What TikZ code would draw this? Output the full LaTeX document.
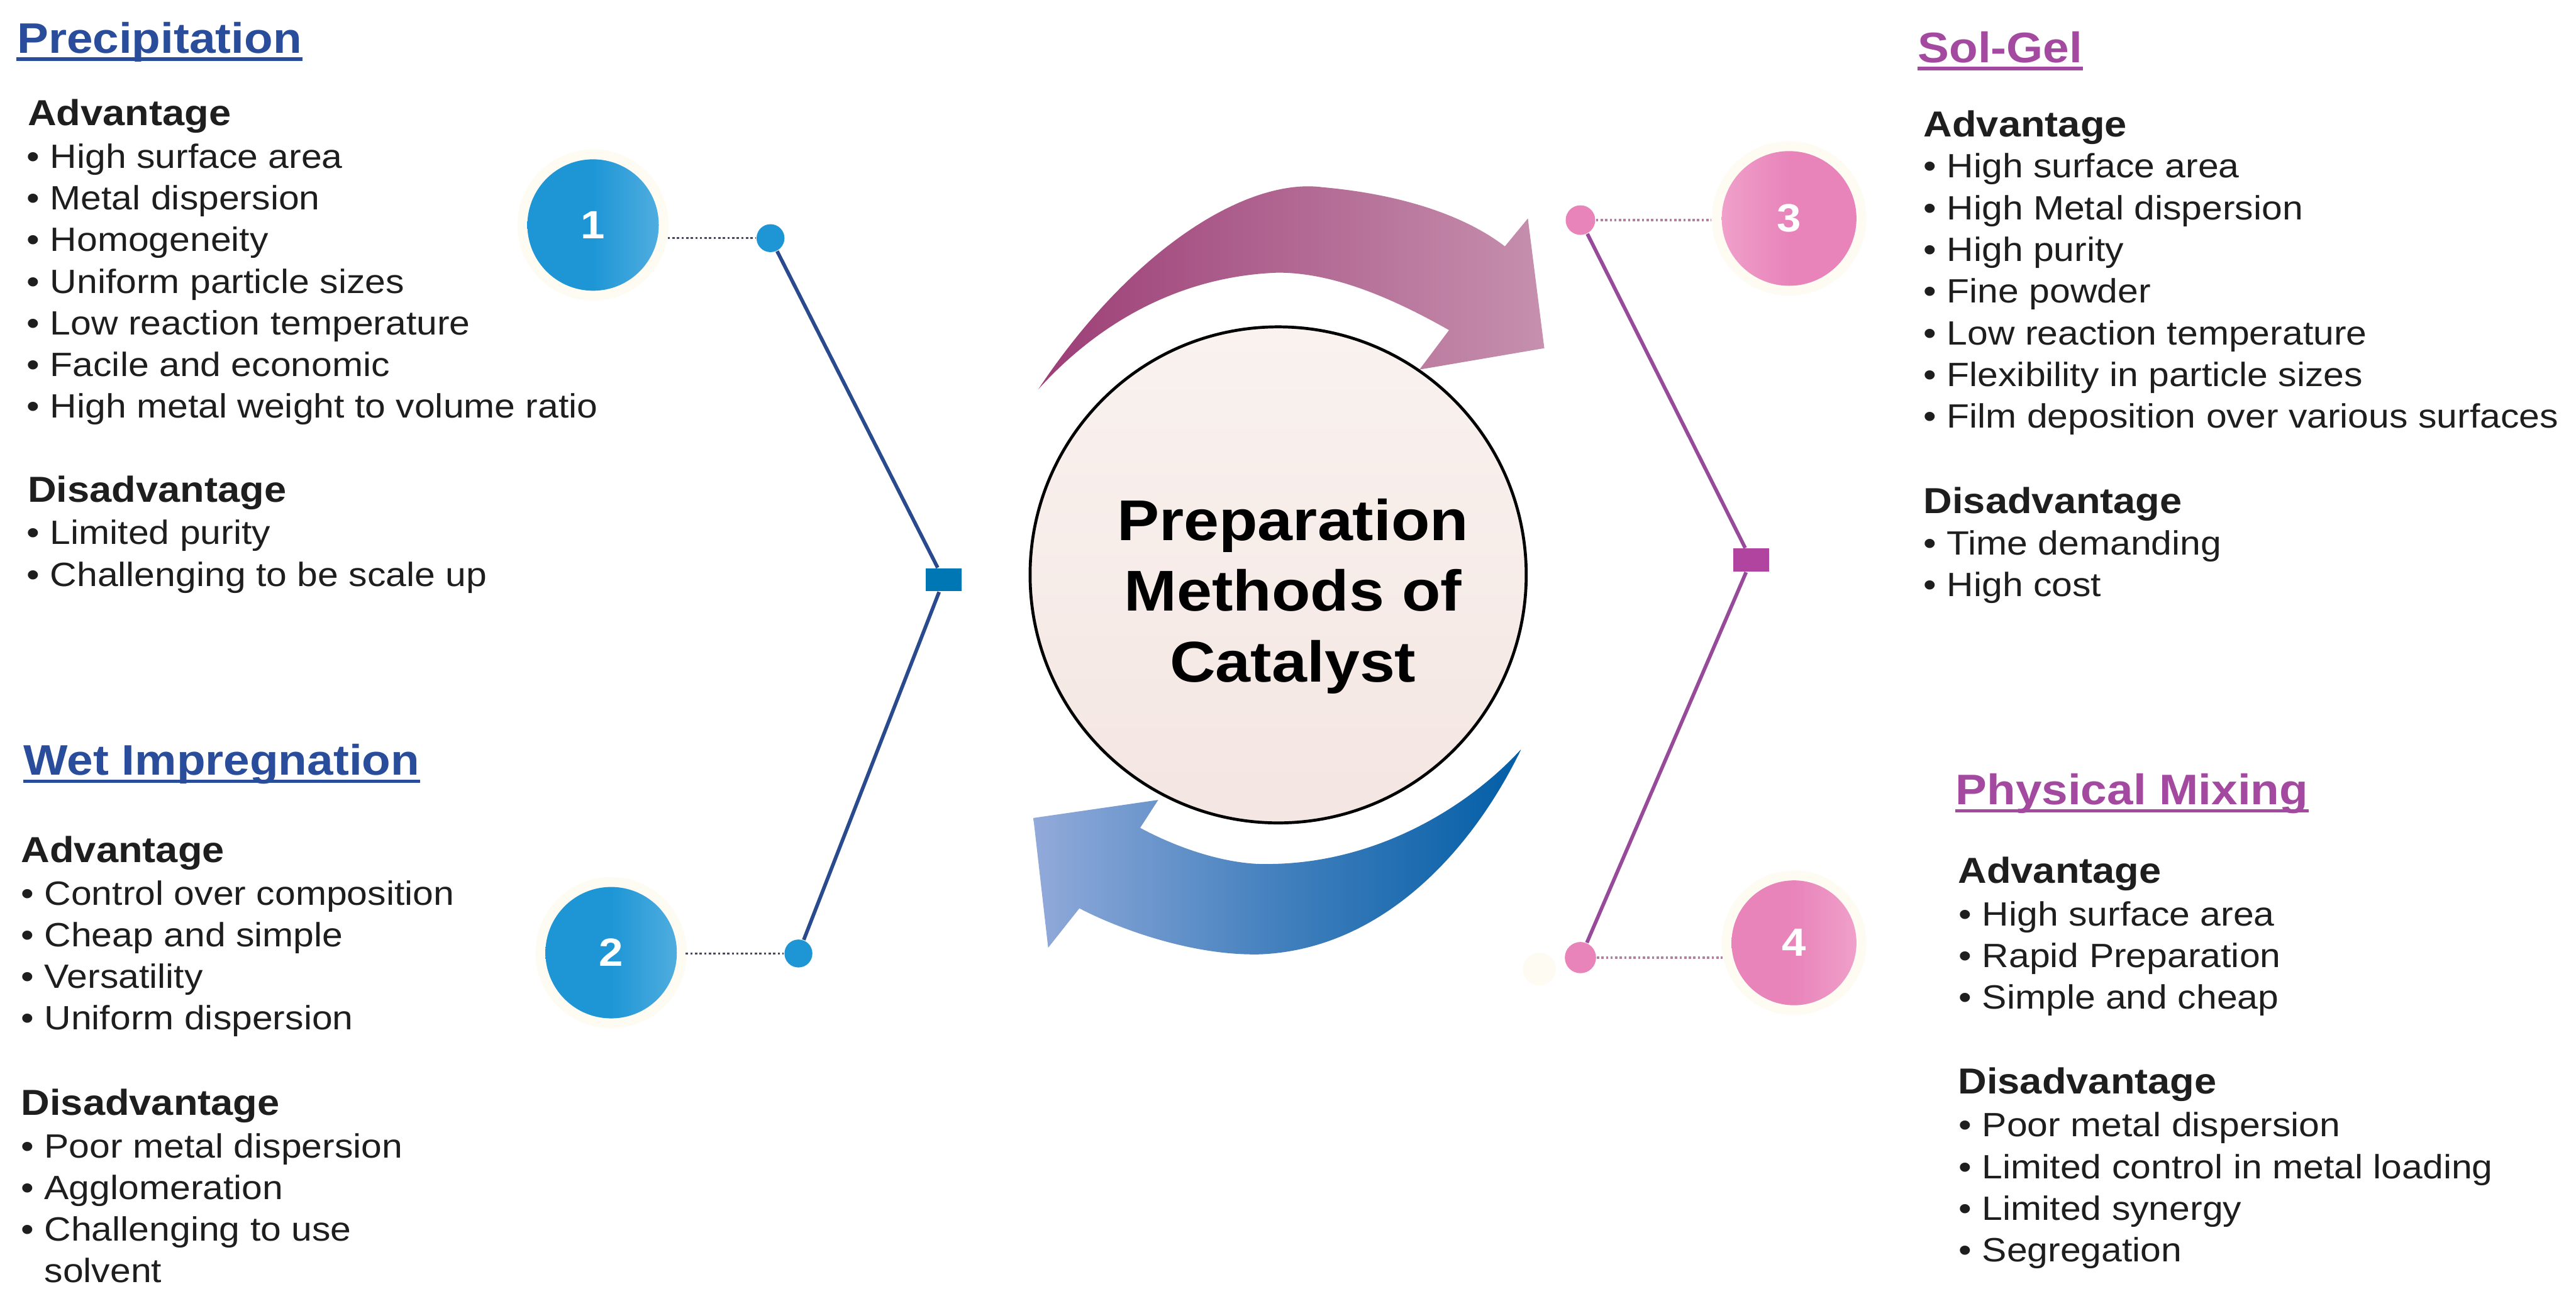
\documentclass[tikz,border=0pt]{standalone}
\usepackage{fontspec}
\setmainfont{Liberation Sans}[FakeStretch=1.1]
\usepackage{xcolor}
\usepackage{tikz}
\usetikzlibrary{positioning, calc}
\definecolor{azultitulo}{RGB}{42, 77, 155}
\definecolor{moradotitulo}{RGB}{163, 73, 160}
\definecolor{azulbola}{RGB}{30, 150, 214}
\definecolor{rosabola}{RGB}{232, 132, 186}
\definecolor{rosaclaro}{RGB}{240, 160, 202}
\definecolor{azullinea}{RGB}{42, 74, 142}
\definecolor{moradolinea}{RGB}{152, 74, 154}
\definecolor{azulcuadro}{RGB}{0, 119, 181}
\definecolor{moradocuadro}{RGB}{176, 68, 159}
\definecolor{grispunto}{RGB}{70, 72, 105}
\definecolor{rosapunto}{RGB}{176, 130, 160}
\definecolor{halo}{RGB}{253, 251, 242}
\definecolor{textogris}{RGB}{30, 30, 30}
\definecolor{flechamorado}{RGB}{156, 62, 118}
\definecolor{flecharosa}{RGB}{198, 144, 174}
\definecolor{flechaceleste}{RGB}{146, 170, 218}
\definecolor{flechaazul}{RGB}{2, 94, 166}
\definecolor{centroclaro}{RGB}{249, 242, 239}
\definecolor{centrorosa}{RGB}{244, 230, 226}

\begin{document}
\begin{tikzpicture}[x=0.5pt, y=-0.5pt,
  titulo/.style={font=\fontsize{13}{15}\selectfont\bfseries, anchor=base west, inner sep=0pt},
  encabezado/.style={font=\fontsize{11}{13}\selectfont\bfseries, text=textogris, anchor=base west, inner sep=0pt},
  item/.style={font=\fontsize{10.25}{12.5}\selectfont, text=textogris, anchor=base west, inner sep=0pt},
  subrayado/.style={line width=1pt},
  bola/.style={circle, minimum size=#1, inner sep=0pt, preaction={draw=halo, line width=6pt}, font=\fontsize{12}{14}\selectfont\bfseries, text=white},
  punto/.style={circle, minimum size=#1, inner sep=0pt},
  cuadro/.style={rectangle, minimum width=11pt, minimum height=7pt, inner sep=0pt},
  linea/.style={line width=1.1pt},
  puntos/.style={line width=0.6pt, dash pattern=on 0.7pt off 0.7pt}]
  \useasboundingbox (0,0) rectangle (1568,795);
  \fill[white] (0,0) rectangle (1568,795);
  % flechas alrededor del centro
  \shade[left color=flechamorado, right color=flecharosa] (632,237) .. controls (690,150) and (760,108) .. (805,114) .. controls (850,118) and (890,130) .. (916,150) -- (930,133) -- (940,212) -- (864,225) -- (882,201) .. controls (845,180) and (810,166) .. (778,166) .. controls (720,168) and (670,195) .. (632,237) -- cycle;
  \shade[left color=flechaceleste, right color=flechaazul, middle color=flechaazul!55!flechaceleste] (926,456) .. controls (895,520) and (840,578) .. (767,581) .. controls (725,582) and (680,565) .. (657,553) -- (638,577) -- (629,498) -- (705,487) -- (694,504) .. controls (720,518) and (750,527) .. (774,526) .. controls (840,525) and (895,490) .. (926,456) -- cycle;
  % circulo central
  \node[circle, draw=black, line width=0.9pt, minimum size=151pt, inner sep=0pt, top color=centroclaro, bottom color=centrorosa] (centro) at (778,350) {};
  \node[font=\fontsize{17.5}{21.6}\selectfont\bfseries, align=center] (lema) at ($(centro)+(9,13)$) {Preparation\\Methods of\\Catalyst};
  % bolas numeradas
  \node[bola=40pt, left color=azulbola, right color=azulbola!78!white, middle color=azulbola] (b1) at (361,137) {1};
  \node[bola=40pt, left color=azulbola, right color=azulbola!78!white, middle color=azulbola] (b2) at (372,580) {2};
  \node[bola=41pt, left color=rosaclaro, right color=rosabola, middle color=rosabola] (b3) at (1089,133) {3};
  \node[bola=38pt, left color=rosabola, right color=rosaclaro, middle color=rosabola] (b4) at (1092,574) {4};
  \fill[halo] (937,590) circle (5pt);
  % puntos y cuadros de union
  \node[punto=8.5pt, fill=azulbola] (p1) at (469,145) {};
  \node[punto=8.5pt, fill=azulbola] (p2) at (486,580.5) {};
  \node[punto=9pt, fill=rosabola] (p3) at (962,134) {};
  \node[punto=9.5pt, fill=rosabola] (p4) at (962,583) {};
  \node[cuadro, fill=azulcuadro] (q1) at (574.5,353) {};
  \node[cuadro, fill=moradocuadro] (q2) at (1066,341) {};
  \draw[linea, azullinea] (p1) -- (q1) -- (p2);
  \draw[linea, moradolinea] (p3) -- (q2) -- (p4);
  \draw[puntos, grispunto] ($(b1.east |- p1)+(5,0)$) -- (p1);
  \draw[puntos, grispunto] ($(b2.east |- p2)+(5,0)$) -- (p2);
  \draw[puntos, rosapunto] (p3) -- ($(b3.west |- p3)+(-6,0)$);
  \draw[puntos, rosapunto] (p4) -- ($(b4.west |- p4)+(-5,0)$);
  % Precipitation
  \node[titulo, text=azultitulo] (prec) at (10,32.5) {Precipitation};
  \draw[subrayado, azultitulo] ($(prec.base west)+(0,3.5)$) -- ($(prec.base east)+(0,3.5)$);
  \node[encabezado] (prec-v) at (16.5,76.5) {Advantage};
  \foreach \t [count=\i] in {High surface area, Metal dispersion, Homogeneity, Uniform particle sizes, Low reaction temperature, Facile and economic, High metal weight to volume ratio} { \node[item] (prec-v\i) at (16,{102.5+25.3*(\i-1)}) {• \t}; }
  \node[encabezado] (prec-d) at (16.5,305.5) {Disadvantage};
  \foreach \t [count=\i] in {Limited purity, Challenging to be scale up} { \node[item] (prec-d\i) at (16,{331.5+25.3*(\i-1)}) {• \t}; }
  % Wet Impregnation
  \node[titulo, text=azultitulo] (wet) at (14,472) {Wet Impregnation};
  \draw[subrayado, azultitulo] ($(wet.base west)+(0,3.5)$) -- ($(wet.base east)+(0,3.5)$);
  \node[encabezado] (wet-v) at (12.5,525) {Advantage};
  \foreach \t [count=\i] in {Control over composition, Cheap and simple, Versatility, Uniform dispersion} { \node[item] (wet-v\i) at (12.5,{551+25.3*(\i-1)}) {• \t}; }
  \node[encabezado] (wet-d) at (12.5,679) {Disadvantage};
  \foreach \t [count=\i] in {Poor metal dispersion, Agglomeration, Challenging to use} { \node[item] (wet-d\i) at (12.5,{705+25.3*(\i-1)}) {• \t}; }
  \node[item] (wet-d3b) at (12.5,{705+25.3*3}) {\phantom{• }solvent};
  % Sol-Gel
  \node[titulo, text=moradotitulo] (sol) at (1167,38.2) {Sol-Gel};
  \draw[subrayado, moradotitulo] ($(sol.base west)+(0,3.5)$) -- ($(sol.base east)+(0,3.5)$);
  \node[encabezado] (sol-v) at (1170.5,83.1) {Advantage};
  \foreach \t [count=\i] in {High surface area, High Metal dispersion, High purity, Fine powder, Low reaction temperature, Flexibility in particle sizes, Film deposition over various surfaces} { \node[item] (sol-v\i) at (1170.5,{108.3+25.4*(\i-1)}) {• \t}; }
  \node[encabezado] (sol-d) at (1170.5,312.5) {Disadvantage};
  \foreach \t [count=\i] in {Time demanding, High cost} { \node[item] (sol-d\i) at (1170.5,{337.8+25.4*(\i-1)}) {• \t}; }
  % Physical Mixing
  \node[titulo, text=moradotitulo] (fis) at (1190,489.7) {Physical Mixing};
  \draw[subrayado, moradotitulo] ($(fis.base west)+(0,3.8)$) -- ($(fis.base east)+(0,3.8)$);
  \node[encabezado] (fis-v) at (1191.5,537.6) {Advantage};
  \foreach \t [count=\i] in {High surface area, Rapid Preparation, Simple and cheap} { \node[item] (fis-v\i) at (1192,{563.7+25.35*(\i-1)}) {• \t}; }
  \node[encabezado] (fis-d) at (1191.5,666) {Disadvantage};
  \foreach \t [count=\i] in {Poor metal dispersion, Limited control in metal loading, Limited synergy, Segregation} { \node[item] (fis-d\i) at (1192,{692.1+25.35*(\i-1)}) {• \t}; }
\end{tikzpicture}
\end{document}
